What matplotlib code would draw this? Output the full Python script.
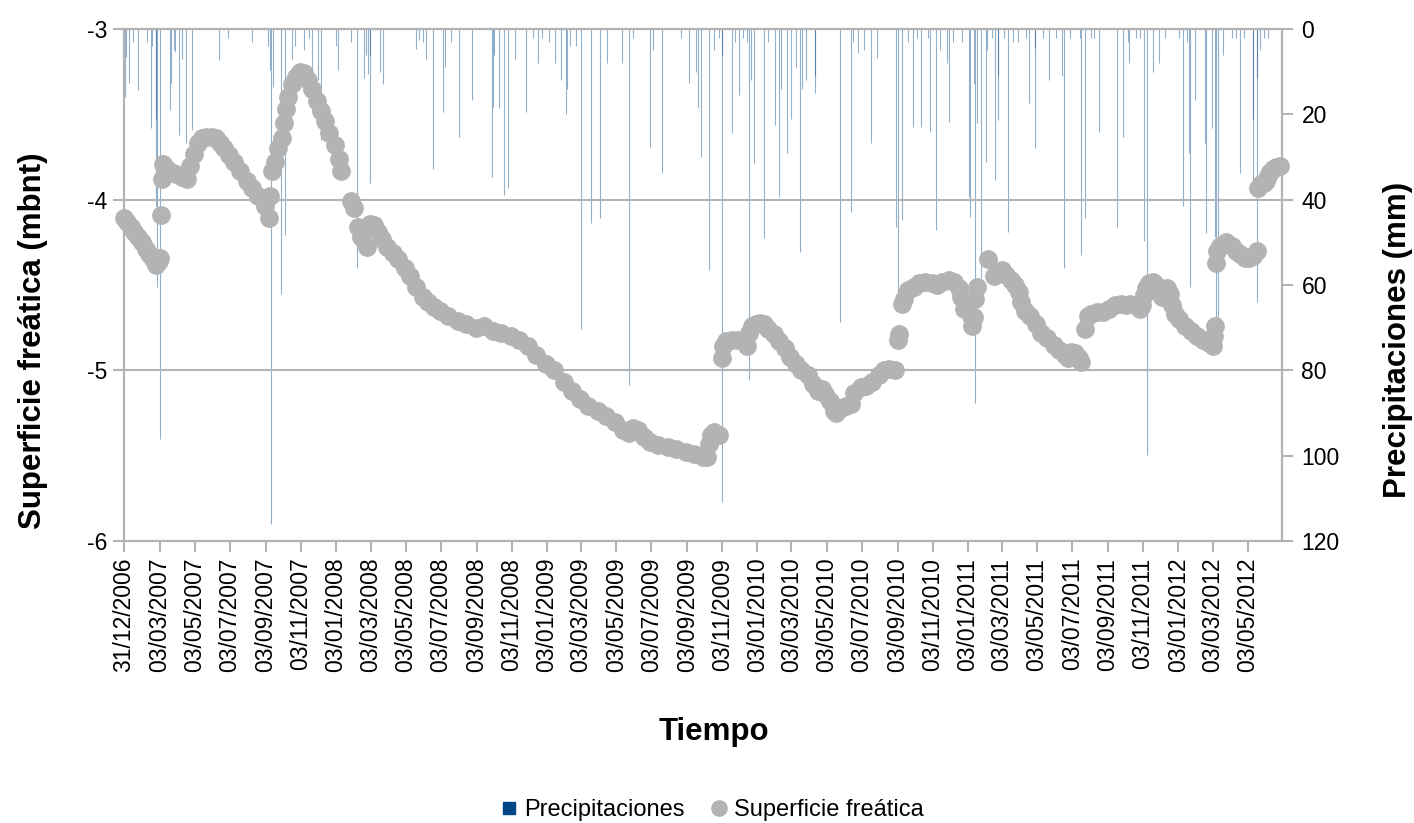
import pandas as pd
import matplotlib
matplotlib.use('Agg')
import matplotlib.pyplot as plt
from matplotlib.lines import Line2D

plt.rcParams['font.family'] = ['Liberation Sans', 'DejaVu Sans']

# groundwater level (m below ground)
level_dates = [
    '2006-12-31', '2007-01-06', '2007-01-12', '2007-01-18', '2007-01-24', '2007-02-01', '2007-02-07',
    '2007-02-13', '2007-02-19', '2007-02-25', '2007-03-01', '2007-03-03', '2007-03-05', '2007-03-07',
    '2007-03-09', '2007-03-15', '2007-03-22', '2007-04-01', '2007-04-10', '2007-04-19', '2007-04-25',
    '2007-05-01', '2007-05-08', '2007-05-15', '2007-05-22', '2007-06-01', '2007-06-08', '2007-06-15',
    '2007-06-22', '2007-07-01', '2007-07-10', '2007-07-20', '2007-08-01', '2007-08-10', '2007-08-20',
    '2007-09-01', '2007-09-08', '2007-09-11', '2007-09-14', '2007-09-19', '2007-09-25', '2007-10-01',
    '2007-10-05', '2007-10-08', '2007-10-12', '2007-10-18', '2007-10-25', '2007-11-01', '2007-11-08',
    '2007-11-15', '2007-11-22', '2007-12-01', '2007-12-08', '2007-12-15', '2007-12-22', '2008-01-01',
    '2008-01-08', '2008-01-12', '2008-01-28', '2008-02-03', '2008-02-10', '2008-02-16', '2008-02-25',
    '2008-03-01', '2008-03-08', '2008-03-15', '2008-03-22', '2008-04-01', '2008-04-10', '2008-04-20',
    '2008-05-01', '2008-05-10', '2008-05-20', '2008-06-01', '2008-06-10', '2008-06-20', '2008-07-01',
    '2008-07-15', '2008-08-01', '2008-08-15', '2008-09-01', '2008-09-15', '2008-10-01', '2008-10-15',
    '2008-11-01', '2008-11-15', '2008-12-01', '2008-12-15', '2009-01-01', '2009-01-15', '2009-02-01',
    '2009-02-15', '2009-03-01', '2009-03-15', '2009-04-01', '2009-04-15', '2009-05-01', '2009-05-15',
    '2009-05-25', '2009-06-01', '2009-06-10', '2009-06-20', '2009-07-01', '2009-07-15', '2009-08-01',
    '2009-08-15', '2009-09-01', '2009-09-15', '2009-10-01', '2009-10-08', '2009-10-11', '2009-10-15',
    '2009-10-20', '2009-10-28', '2009-11-02', '2009-11-05', '2009-11-10', '2009-11-20', '2009-12-01',
    '2009-12-10', '2009-12-15', '2009-12-20', '2009-12-25', '2010-01-01', '2010-01-08', '2010-01-15',
    '2010-01-22', '2010-02-01', '2010-02-10', '2010-02-20', '2010-03-01', '2010-03-10', '2010-03-20',
    '2010-04-01', '2010-04-10', '2010-04-18', '2010-04-25', '2010-05-01', '2010-05-08', '2010-05-15',
    '2010-05-20', '2010-05-28', '2010-06-05', '2010-06-15', '2010-06-20', '2010-07-01', '2010-07-10',
    '2010-07-20', '2010-08-01', '2010-08-10', '2010-08-20', '2010-08-30', '2010-09-03', '2010-09-06',
    '2010-09-10', '2010-09-14', '2010-09-22', '2010-10-01', '2010-10-10', '2010-10-20', '2010-11-01',
    '2010-11-10', '2010-11-20', '2010-12-01', '2010-12-10', '2010-12-18', '2010-12-22', '2010-12-28',
    '2011-01-03', '2011-01-08', '2011-01-10', '2011-01-13', '2011-01-16', '2011-01-18', '2011-02-07',
    '2011-02-18', '2011-02-25', '2011-03-03', '2011-03-10', '2011-03-18', '2011-03-25', '2011-04-01',
    '2011-04-06', '2011-04-12', '2011-04-20', '2011-05-01', '2011-05-10', '2011-05-20', '2011-06-01',
    '2011-06-10', '2011-06-20', '2011-06-25', '2011-07-01', '2011-07-08', '2011-07-15', '2011-07-19',
    '2011-07-26', '2011-07-30', '2011-08-05', '2011-08-15', '2011-08-25', '2011-09-05', '2011-09-15',
    '2011-09-25', '2011-10-05', '2011-10-12', '2011-10-20', '2011-10-28', '2011-11-01', '2011-11-04',
    '2011-11-08', '2011-11-14', '2011-11-20', '2011-11-25', '2011-12-01', '2011-12-05', '2011-12-10',
    '2011-12-15', '2011-12-20', '2011-12-24', '2011-12-28', '2012-01-05', '2012-01-15', '2012-01-25',
    '2012-02-05', '2012-02-15', '2012-02-25', '2012-03-03', '2012-03-05', '2012-03-06', '2012-03-08',
    '2012-03-10', '2012-03-15', '2012-03-25', '2012-04-05', '2012-04-12', '2012-04-20', '2012-04-28',
    '2012-05-05', '2012-05-12', '2012-05-18', '2012-05-21', '2012-05-25', '2012-05-30', '2012-06-03',
    '2012-06-07', '2012-06-11', '2012-06-16', '2012-06-21', '2012-06-27',
]
level_values = [
    -4.11, -4.13, -4.16, -4.19, -4.22, -4.25, -4.29,
    -4.32, -4.35, -4.38, -4.36, -4.34, -4.09, -3.88,
    -3.79, -3.82, -3.84, -3.85, -3.87, -3.88, -3.80,
    -3.73, -3.67, -3.64, -3.63, -3.63, -3.64, -3.67,
    -3.70, -3.74, -3.78, -3.83, -3.89, -3.93, -3.98,
    -4.04, -4.11, -3.98, -3.83, -3.78, -3.70, -3.64,
    -3.55, -3.47, -3.40, -3.32, -3.28, -3.25, -3.26,
    -3.30, -3.35, -3.42, -3.48, -3.54, -3.61, -3.68,
    -3.76, -3.83, -4.01, -4.05, -4.16, -4.22, -4.28,
    -4.14, -4.15, -4.19, -4.23, -4.28, -4.31, -4.35,
    -4.40, -4.45, -4.51, -4.57, -4.60, -4.63, -4.65,
    -4.68, -4.71, -4.73, -4.75, -4.74, -4.77, -4.78,
    -4.80, -4.82, -4.86, -4.91, -4.96, -5.00, -5.07,
    -5.12, -5.17, -5.21, -5.24, -5.27, -5.30, -5.35,
    -5.37, -5.34, -5.35, -5.39, -5.42, -5.44, -5.45,
    -5.46, -5.48, -5.49, -5.51, -5.51, -5.43, -5.38,
    -5.36, -5.38, -4.93, -4.86, -4.83, -4.82, -4.82,
    -4.83, -4.86, -4.78, -4.74, -4.73, -4.72, -4.73,
    -4.76, -4.79, -4.83, -4.87, -4.92, -4.96, -5.00,
    -5.03, -5.08, -5.12, -5.11, -5.14, -5.18, -5.24,
    -5.25, -5.22, -5.21, -5.20, -5.13, -5.10, -5.09,
    -5.07, -5.03, -5.00, -4.99, -5.00, -4.82, -4.79,
    -4.61, -4.58, -4.53, -4.51, -4.49, -4.48, -4.49,
    -4.50, -4.48, -4.47, -4.48, -4.52, -4.57, -4.64,
    -4.63, -4.68, -4.74, -4.69, -4.58, -4.51, -4.35,
    -4.45, -4.43, -4.41, -4.44, -4.47, -4.50, -4.54,
    -4.60, -4.65, -4.68, -4.73, -4.78, -4.81, -4.85,
    -4.88, -4.91, -4.93, -4.89, -4.90, -4.93, -4.95,
    -4.76, -4.68, -4.67, -4.66, -4.66, -4.64, -4.62,
    -4.61, -4.62, -4.61, -4.62, -4.64, -4.62, -4.56,
    -4.52, -4.49, -4.48, -4.50, -4.54, -4.57, -4.53,
    -4.52, -4.55, -4.62, -4.67, -4.70, -4.74, -4.77,
    -4.80, -4.82, -4.84, -4.86, -4.80, -4.74, -4.37,
    -4.30, -4.27, -4.25, -4.27, -4.30, -4.32, -4.34,
    -4.34, -4.33, -4.30, -3.93, -3.91, -3.90, -3.89,
    -3.86, -3.84, -3.82, -3.81, -3.80,
]

# daily rainfall (mm), the visible bars
rain_dates = [
    '2007-01-01', '2007-01-03', '2007-01-08', '2007-01-16', '2007-01-24', '2007-02-09', '2007-02-15',
    '2007-02-17', '2007-02-24', '2007-02-25', '2007-02-27', '2007-03-04', '2007-03-20', '2007-03-23',
    '2007-03-27', '2007-03-30', '2007-04-06', '2007-04-11', '2007-04-18', '2007-04-28', '2007-06-14',
    '2007-06-30', '2007-08-10', '2007-09-07', '2007-09-10', '2007-09-12', '2007-09-15', '2007-09-29',
    '2007-10-07', '2007-10-19', '2007-10-24', '2007-11-09', '2007-11-17', '2007-11-23', '2007-12-02',
    '2007-12-08', '2008-01-02', '2008-01-06', '2008-01-28', '2008-02-09', '2008-02-21', '2008-02-24',
    '2008-02-28', '2008-03-01', '2008-03-02', '2008-03-19', '2008-03-24', '2008-05-20', '2008-05-26',
    '2008-06-02', '2008-06-07', '2008-06-19', '2008-07-06', '2008-07-10', '2008-07-21', '2008-08-04',
    '2008-08-26', '2008-09-29', '2008-10-02', '2008-10-03', '2008-10-12', '2008-10-21', '2008-10-28',
    '2008-11-09', '2008-11-27', '2008-12-09', '2008-12-18', '2008-12-25', '2009-01-07', '2009-01-16',
    '2009-01-27', '2009-02-04', '2009-02-06', '2009-02-11', '2009-02-22', '2009-03-03', '2009-03-21',
    '2009-04-04', '2009-04-17', '2009-05-13', '2009-05-25', '2009-06-01', '2009-07-01', '2009-07-06',
    '2009-07-22', '2009-08-24', '2009-09-07', '2009-09-18', '2009-09-22', '2009-09-27', '2009-10-11',
    '2009-10-20', '2009-10-28', '2009-11-02', '2009-11-03', '2009-11-20', '2009-11-25', '2009-12-02',
    '2009-12-09', '2009-12-15', '2009-12-19', '2009-12-23', '2009-12-28', '2010-01-14', '2010-01-21',
    '2010-02-03', '2010-02-09', '2010-02-12', '2010-02-24', '2010-03-02', '2010-03-11', '2010-03-18',
    '2010-03-21', '2010-03-29', '2010-04-12', '2010-04-13', '2010-05-26', '2010-06-14', '2010-06-18',
    '2010-06-27', '2010-07-06', '2010-07-19', '2010-07-30', '2010-09-01', '2010-09-04', '2010-09-11',
    '2010-09-21', '2010-09-29', '2010-10-06', '2010-10-14', '2010-10-26', '2010-10-29', '2010-11-08',
    '2010-11-16', '2010-11-27', '2010-12-01', '2010-12-08', '2010-12-24', '2011-01-05', '2011-01-06',
    '2011-01-14', '2011-01-16', '2011-01-19', '2011-01-25', '2011-02-04', '2011-02-05', '2011-02-14',
    '2011-02-19', '2011-02-24', '2011-02-25', '2011-03-06', '2011-03-13', '2011-03-23', '2011-03-31',
    '2011-04-14', '2011-04-19', '2011-04-29', '2011-04-30', '2011-05-13', '2011-05-24', '2011-06-05',
    '2011-06-15', '2011-06-18', '2011-06-30', '2011-07-16', '2011-07-18', '2011-07-25', '2011-08-04',
    '2011-08-10', '2011-08-19', '2011-09-18', '2011-09-29', '2011-10-08', '2011-10-09', '2011-10-22',
    '2011-10-29', '2011-11-05', '2011-11-10', '2011-11-20', '2011-11-30', '2011-12-11', '2012-01-05',
    '2012-01-12', '2012-01-19', '2012-01-22', '2012-01-23', '2012-02-01', '2012-02-18', '2012-02-21',
    '2012-03-01', '2012-03-06', '2012-03-09', '2012-03-12', '2012-03-20', '2012-04-06', '2012-04-13',
    '2012-04-19', '2012-04-26', '2012-05-11', '2012-05-12', '2012-05-18', '2012-05-19', '2012-05-23',
    '2012-05-30', '2012-06-06',
]
rain_mm = [
    16.0, 6.5, 12.7, 3.0, 14.3, 3.0, 23.3,
    4.0, 21.0, 41.6, 60.4, 96.0, 19.0, 12.6,
    5.0, 5.5, 24.8, 7.0, 26.8, 23.7, 7.3,
    2.0, 3.0, 4.0, 9.6, 116.0, 13.5, 62.0,
    48.3, 7.0, 4.0, 4.9, 2.0, 9.6, 12.0,
    26.0, 4.0, 9.6, 3.0, 56.0, 11.5, 6.0,
    10.5, 36.0, 6.0, 10.0, 13.0, 4.8, 2.5,
    3.0, 7.0, 32.7, 19.4, 8.8, 3.0, 25.2,
    16.6, 34.6, 18.2, 6.0, 18.6, 38.9, 37.3,
    7.0, 19.4, 2.0, 8.0, 2.0, 3.0, 8.0,
    12.0, 20.0, 14.0, 4.0, 4.0, 70.2, 45.5,
    44.2, 8.0, 8.0, 83.4, 2.0, 27.6, 5.0,
    33.8, 2.0, 12.7, 10.0, 18.6, 29.9, 56.5,
    5.0, 2.0, 110.8, 6.0, 24.4, 3.0, 15.5,
    2.0, 3.0, 82.3, 12.0, 31.5, 49.0, 3.0,
    22.5, 39.3, 14.0, 29.1, 21.0, 9.0, 52.2,
    14.0, 12.0, 15.0, 11.0, 68.6, 42.8, 3.0,
    5.6, 5.0, 26.8, 6.9, 46.3, 62.7, 44.8,
    3.0, 22.9, 2.0, 22.9, 2.0, 24.1, 47.1,
    5.0, 8.0, 21.7, 3.0, 3.0, 39.3, 44.0,
    13.0, 87.7, 22.0, 58.4, 31.1, 5.0, 2.0,
    35.4, 11.0, 21.3, 2.0, 47.5, 3.0, 3.0,
    2.0, 17.4, 4.5, 28.0, 2.0, 12.0, 2.0,
    11.0, 56.1, 2.0, 2.0, 53.0, 44.4, 2.0,
    2.0, 24.1, 46.3, 25.2, 3.0, 8.0, 2.0,
    2.0, 49.8, 99.8, 10.0, 8.0, 2.0, 2.0,
    41.6, 3.0, 29.1, 60.4, 16.6, 26.8, 47.9,
    23.3, 48.7, 69.0, 68.6, 6.0, 2.0, 2.0,
    33.8, 2.0, 38.5, 21.0, 11.6, 63.9, 5.0,
    2.0, 2.0,
]

tick_labels = [
    '31/12/2006', '03/03/2007', '03/05/2007', '03/07/2007', '03/09/2007', '03/11/2007',
    '03/01/2008', '03/03/2008', '03/05/2008', '03/07/2008', '03/09/2008', '03/11/2008',
    '03/01/2009', '03/03/2009', '03/05/2009', '03/07/2009', '03/09/2009', '03/11/2009',
    '03/01/2010', '03/03/2010', '03/05/2010', '03/07/2010', '03/09/2010', '03/11/2010',
    '03/01/2011', '03/03/2011', '03/05/2011', '03/07/2011', '03/09/2011', '03/11/2011',
    '03/01/2012', '03/03/2012', '03/05/2012',
]

grey = '#b3b3b3'
blue = '#004586'

lvl_x = pd.to_datetime(level_dates)
rain_x = pd.to_datetime(rain_dates)
tick_x = pd.to_datetime(tick_labels, format='%d/%m/%Y')

fig = plt.figure(figsize=(14.14, 8.23), dpi=100)
ax1 = fig.add_axes([124/1414, 1 - 541/823, 1158/1414, 512/823])
ax2 = ax1.twinx()

ax2.vlines(rain_x, 0, rain_mm, color=blue, linewidth=0.8, alpha=0.42)
ax2.set_ylim(120, 0)
ax2.set_yticks(range(0, 121, 20))

# points above the bars
ax1.set_zorder(ax2.get_zorder() + 1)
ax1.patch.set_visible(False)
ax1.plot(lvl_x, level_values, linestyle='none', marker='o', markersize=12.5,
         markerfacecolor=grey, markeredgecolor=grey, clip_on=False)
ax1.set_ylim(-6, -3)
ax1.set_yticks([-6, -5, -4, -3])
ax1.set_yticklabels(['-6', '-5', '-4', '-3'])
ax1.grid(axis='y', color=grey, linewidth=1.5)
ax1.set_axisbelow(True)

ax1.set_xlim(pd.Timestamp('2006-12-31'), pd.Timestamp('2012-07-01'))
ax1.set_xticks(tick_x)
ax1.set_xticklabels(tick_labels, rotation=90)

for ax in (ax1, ax2):
    for s in ax.spines.values():
        s.set_color(grey)
        s.set_linewidth(1.5)
    ax.tick_params(colors=grey, width=1.5, length=8, labelcolor='black', labelsize=16.5)
ax1.tick_params(axis='x', pad=4)
ax1.tick_params(axis='y', pad=4)
ax2.tick_params(axis='y', pad=6)

fig.text(33/1414, 1 - 341/823, 'Superficie freática (mbnt)', rotation=90, ha='center', va='center',
         fontsize=22.5, fontweight='bold')
fig.text(1398/1414, 1 - 340/823, 'Precipitaciones (mm)', rotation=90, ha='center', va='center',
         fontsize=22.5, fontweight='bold')
fig.text(714/1414, 1 - 732/823, 'Tiempo', ha='center', va='center', fontsize=22.5, fontweight='bold')

handles = [
    Line2D([], [], linestyle='none', marker='s', markersize=9, color=blue, label='Precipitaciones'),
    Line2D([], [], linestyle='none', marker='o', markersize=11, color=grey, label='Superficie freática'),
]
fig.legend(handles=handles, loc='center', bbox_to_anchor=(712/1414, 1 - 810/823), ncol=2,
           frameon=False, fontsize=17, handlelength=0.7, handletextpad=0.3, columnspacing=1.1)

fig.savefig('out.png', dpi=100)
